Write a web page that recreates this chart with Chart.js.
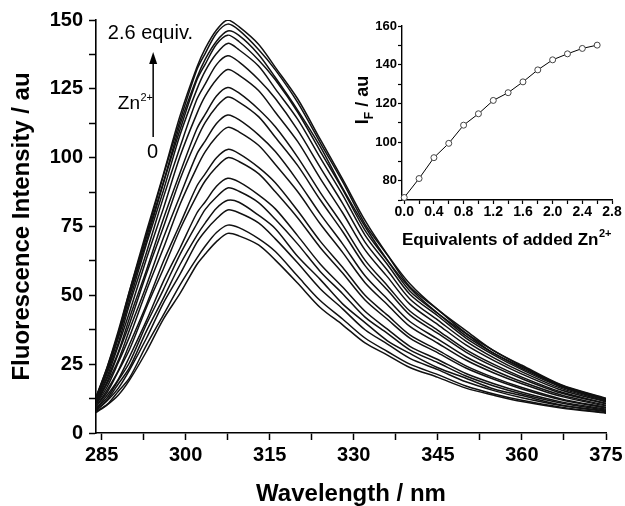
<!DOCTYPE html>
<html><head><meta charset="utf-8">
<script src="https://cdn.jsdelivr.net/npm/chart.js@4.4.0/dist/chart.umd.min.js"></script>
<style>
html,body{margin:0;padding:0;background:#fff;}
#wrap{position:relative;width:625px;height:506px;overflow:hidden;}
#main{position:absolute;left:0;top:0;}
#inset{position:absolute;left:340px;top:0;}
</style></head><body>
<div id="wrap"><canvas id="main" width="625" height="506"></canvas><canvas id="inset" width="285" height="262"></canvas></div>
<script>
// ---------- main plot data ----------
const wavelengths = [284,286,288,290,293,296,299,302,303.5,305.5,307.5,309.5,313,316,320,324,328,332,336,340,345,350,355,360,367,375];
const spectrum01 = [7.4,10.2,13.8,19.3,29.6,41.3,50.7,61.2,65.0,69.5,72.5,71.6,68.3,62.8,54.4,45.6,39.3,32.7,28.3,23.8,20.2,16.3,13.7,11.4,9.1,7.2];
const spectrum02 = [7.8,10.4,15.2,20.1,31.9,42.8,53.8,63.5,67.9,72.8,75.5,74.6,70.6,65.9,56.9,48.1,41.4,34.5,29.6,25.0,21.2,17.1,14.2,11.9,9.4,7.4];
const spectrum03 = [8.1,11.7,16.3,22.9,34.4,47.1,57.7,69.2,73.4,77.8,81.0,80.0,76.3,70.5,61.7,52.4,45.1,37.5,32.3,27.1,23.0,18.6,15.4,12.8,10.0,7.8];
const spectrum04 = [8.3,12.0,17.9,23.8,37.0,48.9,61.2,71.8,76.3,81.6,84.5,83.8,79.1,74.2,64.1,55.8,46.9,40.1,33.5,28.9,23.7,19.9,16.0,13.6,10.2,8.0];
const spectrum05 = [8.8,12.8,19.2,25.7,39.5,52.0,64.9,76.0,81.2,85.7,89.0,87.8,83.7,77.6,68.6,58.7,50.6,42.1,36.2,30.2,25.5,20.7,17.1,14.2,10.9,8.3];
const spectrum06 = [8.8,13.8,19.6,27.8,40.8,55.0,67.2,79.9,84.0,89.6,92.5,91.2,86.5,81.4,71.6,61.4,53.0,44.2,37.7,31.5,26.7,21.6,17.9,14.8,11.3,8.6];
const spectrum07 = [9.6,14.8,22.5,30.4,45.6,59.5,74.0,86.3,91.6,96.6,100.0,98.6,94.2,87.6,78.1,67.4,58.1,48.3,41.3,34.5,29.1,23.6,19.5,16.0,12.1,9.1];
const spectrum08 = [9.6,15.7,22.8,32.3,46.6,62.2,75.9,89.7,94.2,100.0,103.0,101.5,96.5,90.9,80.7,69.7,60.2,50.0,42.8,35.6,30.1,24.4,20.1,16.5,12.4,9.3];
const spectrum09 = [10.3,16.8,25.7,35.1,51.7,67.0,83.1,96.5,102.2,107.6,111.0,109.4,104.5,97.5,87.6,76.0,65.6,54.6,46.6,38.7,32.6,26.5,21.8,17.9,13.3,9.8];
const spectrum10 = [10.5,18.0,26.5,37.6,53.6,70.7,86.2,101.3,106.1,112.4,115.5,113.8,108.3,102.2,91.5,79.6,68.7,57.1,48.7,40.5,34.1,27.7,22.8,18.6,13.8,10.1];
const spectrum11 = [11.1,18.7,29.0,39.8,57.8,74.6,92.2,106.7,112.8,118.5,122.0,120.2,114.9,107.4,97.1,84.7,73.2,60.8,51.9,42.9,36.2,29.4,24.1,19.7,14.5,10.6];
const spectrum12 = [11.2,19.8,29.5,41.9,59.1,77.6,94.5,110.5,115.8,122.4,125.5,123.5,117.6,111.2,100.1,87.4,75.6,62.8,53.5,44.3,37.3,30.3,24.9,20.3,14.9,10.8];
const spectrum13 = [11.8,20.6,31.9,44.0,63.3,81.4,100.5,116.0,122.4,128.4,132.0,130.0,124.4,116.5,105.8,92.5,80.0,66.5,56.7,46.8,39.4,32.0,26.3,21.4,15.6,11.3];
const spectrum14 = [12.0,21.8,32.9,46.8,65.5,85.4,103.9,121.2,126.8,133.8,137.0,134.8,128.4,121.5,110.0,96.5,83.4,69.3,59.1,48.7,41.0,33.4,27.3,22.2,16.2,11.6];
const spectrum15 = [12.5,22.3,34.7,48.1,68.6,87.9,108.3,124.8,131.5,137.8,141.5,139.2,133.3,125.0,113.9,100.0,86.5,71.9,61.2,50.4,42.5,34.5,28.3,23.0,16.7,11.9];
const spectrum16 = [12.5,23.2,35.2,49.9,69.6,90.5,110.2,128.2,134.0,141.2,144.5,142.2,135.5,128.3,116.5,102.4,88.5,73.6,62.6,51.6,43.4,35.3,28.9,23.5,17.0,12.1];
const spectrum17 = [12.8,23.1,36.0,50.1,71.1,90.9,112.0,129.0,135.8,142.3,146.0,144.4,137.5,129.1,117.2,104.1,88.9,75.0,62.8,52.7,43.5,36.1,28.9,24.0,17.0,12.2];
const spectrum18 = [12.8,23.9,36.4,51.6,71.9,93.3,113.5,131.9,137.9,145.2,148.5,146.3,139.3,131.9,120.0,105.5,91.3,75.9,64.6,53.1,44.8,36.3,29.9,24.2,17.4,12.4];
const spectrum19 = [13.1,24.0,37.2,51.8,73.2,93.8,115.2,132.8,139.7,146.4,150.0,147.6,141.2,132.8,121.3,106.7,92.2,77.2,64.8,54.2,44.8,37.2,29.8,24.6,17.5,12.6];
const spectra = [spectrum01,spectrum02,spectrum03,spectrum04,spectrum05,spectrum06,spectrum07,spectrum08,spectrum09,spectrum10,
                 spectrum11,spectrum12,spectrum13,spectrum14,spectrum15,spectrum16,spectrum17,spectrum18,spectrum19];
const mainXTicks = [285,292.5,300,307.5,315,322.5,330,337.5,345,352.5,360,367.5,375];
const mainYTicks = [0,12.5,25,37.5,50,62.5,75,87.5,100,112.5,125,137.5,150];

// ---------- inset data ----------
const equivalents = [0,0.2,0.4,0.6,0.8,1.0,1.2,1.4,1.6,1.8,2.0,2.2,2.4,2.6];
const intensityF = [71.3,81.1,91.9,99.3,108.7,114.6,121.5,125.5,131.1,137.3,142.5,145.6,148.4,150.1];
const insetXTicks = [0,0.2,0.4,0.6,0.8,1.0,1.2,1.4,1.6,1.8,2.0,2.2,2.4,2.6,2.8];
const insetYTicks = [70,80,90,100,110,120,130,140,150,160];

const FONT = "'Liberation Sans', Arial, Helvetica, sans-serif";

const annotPlugin = {
  id: 'annot',
  afterDatasetsDraw(chart) {
    const {ctx, scales: {x, y}} = chart;
    ctx.save();
    ctx.fillStyle = '#000'; ctx.strokeStyle = '#000';
    ctx.textBaseline = 'alphabetic';
    ctx.font = `20px ${FONT}`; ctx.textAlign = 'left';
    ctx.fillText('2.6 equiv.', x.getPixelForValue(286.1), y.getPixelForValue(143));
    // arrow
    const ax = x.getPixelForValue(294.2), ay0 = y.getPixelForValue(107.5), ay1 = y.getPixelForValue(138.4);
    ctx.lineWidth = 1.5;
    ctx.beginPath(); ctx.moveTo(ax, ay0); ctx.lineTo(ax, ay1 + 8); ctx.stroke();
    ctx.beginPath(); ctx.moveTo(ax, ay1); ctx.lineTo(ax - 4, ay1 + 12); ctx.lineTo(ax + 4, ay1 + 12); ctx.closePath(); ctx.fill();
    // Zn2+
    const zx = x.getPixelForValue(291.85), zy = y.getPixelForValue(117.7);
    ctx.font = `19px ${FONT}`; ctx.textAlign = 'right';
    ctx.fillText('Zn', zx, zy);
    ctx.font = `11px ${FONT}`; ctx.textAlign = 'left';
    ctx.fillText('2+', zx + 0.5, zy - 8);
    // 0
    ctx.font = `20px ${FONT}`; ctx.textAlign = 'center';
    ctx.fillText('0', x.getPixelForValue(294.1), y.getPixelForValue(99.9));
    ctx.restore();
  }
};

new Chart(document.getElementById('main'), {
  type: 'line',
  data: {
    datasets: spectra.map(s => ({
      data: s.map((v, i) => ({x: wavelengths[i], y: v})),
      borderColor: '#111', borderWidth: 1.5, pointRadius: 0, tension: 0.3, fill: false
    }))
  },
  options: {
    responsive: false, animation: false, devicePixelRatio: 1,
    layout: {padding: {left: 0, top: 20, right: 19, bottom: 0}},
    plugins: {legend: {display: false}, tooltip: {enabled: false}},
    scales: {
      x: {
        type: 'linear', min: 284, max: 375,
        afterBuildTicks: s => { s.ticks = mainXTicks.map(v => ({value: v})); },
        afterFit: s => { s.height = 73; s.paddingLeft = 0; s.paddingRight = 0; },
        ticks: {autoSkip: false, maxRotation: 0, padding: 3, color: '#000',
          font: {family: FONT, size: 20, weight: 'bold'},
          callback: v => ((v - 285) % 15 === 0 ? String(v) : '')},
        grid: {drawOnChartArea: false, drawTicks: true, tickLength: 7, tickWidth: 1.5, tickColor: '#000'},
        border: {display: true, color: '#000', width: 1.6},
        title: {display: true, text: 'Wavelength / nm', color: '#000',
          font: {family: FONT, size: 24, weight: 'bold', lineHeight: 1}, padding: {top: 0, bottom: 0}}
      },
      y: {
        type: 'linear', min: 0, max: 150,
        afterBuildTicks: s => { s.ticks = mainYTicks.map(v => ({value: v})); },
        afterFit: s => { s.width = 96; s.paddingTop = 0; s.paddingBottom = 0; },
        ticks: {autoSkip: false, padding: 6, color: '#000',
          font: {family: FONT, size: 20, weight: 'bold'},
          callback: v => (v % 25 === 0 ? String(v) : '')},
        grid: {drawOnChartArea: false, drawTicks: true, tickLength: 7, tickWidth: 1.5, tickColor: '#000'},
        border: {display: true, color: '#000', width: 1.6},
        title: {display: true, text: 'Fluorescence Intensity / au', color: '#000',
          font: {family: FONT, size: 24, weight: 'bold', lineHeight: 1}, padding: {top: 10, bottom: 0}}
      }
    }
  },
  plugins: [annotPlugin]
});

const insetTitles = {
  id: 'insetTitles',
  afterDraw(chart) {
    const {ctx, chartArea} = chart;
    ctx.save();
    ctx.fillStyle = '#000'; ctx.textBaseline = 'alphabetic'; ctx.textAlign = 'left';
    // y title: I_F / au (rotated)
    ctx.translate(28, 100);
    ctx.rotate(-Math.PI / 2);
    ctx.font = `bold 18px ${FONT}`;
    const wI = ctx.measureText('I').width, wR = ctx.measureText(' / au').width;
    ctx.font = `bold 12px ${FONT}`;
    const wF = ctx.measureText('F').width;
    let sx = -(wI + wF + wR) / 2;
    ctx.font = `bold 18px ${FONT}`; ctx.fillText('I', sx, 0);
    ctx.font = `bold 12px ${FONT}`; ctx.fillText('F', sx + wI, 5);
    ctx.font = `bold 18px ${FONT}`; ctx.fillText(' / au', sx + wI + wF, 0);
    ctx.setTransform(1, 0, 0, 1, 0, 0);
    // x title
    const bx = chartArea.left, by = 245;
    ctx.font = `bold 17px ${FONT}`;
    const t = 'Equivalents of added Zn';
    ctx.fillText(t, bx, by);
    const w = ctx.measureText(t).width;
    ctx.font = `bold 11px ${FONT}`;
    ctx.fillText('2+', bx + w + 0.5, by - 8);
    ctx.restore();
  }
};

new Chart(document.getElementById('inset'), {
  type: 'line',
  data: {
    datasets: [{
      data: equivalents.map((e, i) => ({x: e, y: intensityF[i]})),
      borderColor: '#000', borderWidth: 1, tension: 0, clip: false,
      pointRadius: 3, pointBackgroundColor: '#fff', pointBorderColor: '#444', pointBorderWidth: 1
    }]
  },
  options: {
    responsive: false, animation: false, devicePixelRatio: 1,
    layout: {padding: {left: 0, top: 26, right: 13, bottom: 0}},
    plugins: {legend: {display: false}, tooltip: {enabled: false}},
    scales: {
      x: {
        type: 'linear', min: -0.03, max: 2.8,
        afterBuildTicks: s => { s.ticks = insetXTicks.map(v => ({value: v})); },
        afterFit: s => { s.height = 62; s.paddingLeft = 0; s.paddingRight = 0; },
        ticks: {autoSkip: false, maxRotation: 0, padding: 0, color: '#000',
          font: {family: FONT, size: 14, weight: 'bold'},
          callback: v => (Math.round(v * 10) % 4 === 0 ? v.toFixed(1) : '')},
        grid: {drawOnChartArea: false, drawTicks: true, tickLength: 4, tickWidth: 1.2, tickColor: '#000'},
        border: {display: true, color: '#000', width: 1.4}
      },
      y: {
        type: 'linear', min: 70, max: 160,
        afterBuildTicks: s => { s.ticks = insetYTicks.map(v => ({value: v})); },
        afterFit: s => { s.width = 62; s.paddingTop = 0; s.paddingBottom = 0; },
        ticks: {autoSkip: false, padding: 1, color: '#000',
          font: {family: FONT, size: 13, weight: 'bold'},
          callback: v => (v % 20 === 0 ? String(v) : '')},
        grid: {drawOnChartArea: false, drawTicks: true, tickLength: 4, tickWidth: 1.2, tickColor: '#000'},
        border: {display: true, color: '#000', width: 1.4}
      }
    }
  },
  plugins: [insetTitles]
});
</script>
</body></html>
